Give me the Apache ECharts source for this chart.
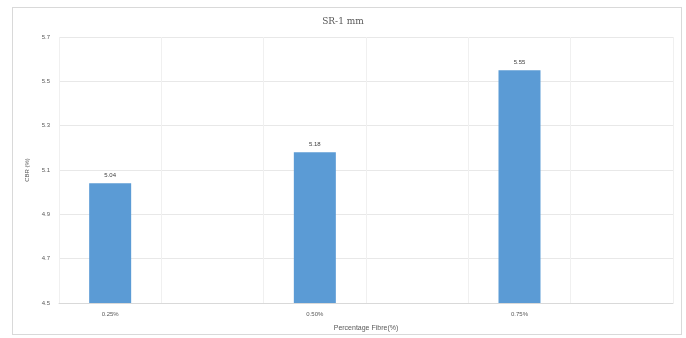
<!DOCTYPE html>
<html>
<head>
<meta charset="utf-8">
<script src="https://cdn.jsdelivr.net/npm/echarts@6/dist/echarts.min.js"></script>
<style>
  html, body { margin: 0; padding: 0; background: #fff; }
  #frame { position: absolute; left: 12px; top: 7px; width: 670px; height: 328px; border: 1px solid #d9d9d9; box-sizing: border-box; }
  #chart { position: absolute; left: 0; top: 0; width: 686px; height: 338px; }
</style>
</head>
<body>
<div id="frame"></div>
<div id="chart"></div>
<script>
// CBR results for each fibre dosage
const chartTitle = 'SR-1 mm';
const categories = ['0.25%', '0.50%', '0.75%'];
const cbrValues = [5.04, 5.18, 5.55];
const yTicks = [4.5, 4.7, 4.9, 5.1, 5.3, 5.5, 5.7];

// each dosage sits in every other slot of the axis, with an empty slot after it
const slotLabels = [];
const slotValues = [];
categories.forEach((c, i) => {
  slotLabels.push(c, '');
  slotValues.push(cbrValues[i], null);
});

const chart = echarts.init(document.getElementById('chart'), null, { renderer: 'canvas' });
chart.setOption({
  backgroundColor: 'transparent',
  animation: false,
  title: {
    text: chartTitle,
    left: 'center',
    top: 12,
    textStyle: { fontFamily: 'DejaVu Serif', fontSize: 9, fontWeight: 'normal', color: '#595959' }
  },
  grid: { left: 59, right: 13, top: 37, bottom: 35 },
  xAxis: {
    type: 'category',
    data: slotLabels,
    name: 'Percentage Fibre(%)',
    nameLocation: 'middle',
    nameGap: 22,
    nameTextStyle: { fontFamily: 'Liberation Sans', fontSize: 7, color: '#595959' },
    axisLine: { lineStyle: { color: '#d9d9d9' } },
    axisTick: { show: false },
    axisLabel: { fontFamily: 'Liberation Sans', fontSize: 6, color: '#595959', margin: 8, interval: 0 },
    splitLine: { show: true, lineStyle: { color: '#f0f0f0', width: 1 } }
  },
  yAxis: {
    type: 'value',
    min: yTicks[0],
    max: yTicks[yTicks.length - 1],
    interval: 0.2,
    name: 'CBR (%)',
    nameLocation: 'middle',
    nameGap: 20,
    nameRotate: 90,
    nameTextStyle: { fontFamily: 'Liberation Sans', fontSize: 6, color: '#595959' },
    axisLine: { show: false },
    axisTick: { show: false },
    axisLabel: {
      fontFamily: 'Liberation Sans', fontSize: 6, color: '#595959', margin: 9,
      formatter: v => v.toFixed(1)
    },
    splitLine: { lineStyle: { color: '#e8e8e8', width: 1 } }
  },
  series: [{
    type: 'bar',
    data: slotValues,
    barWidth: 42,
    itemStyle: { color: '#5b9bd5' },
    label: {
      show: true,
      position: 'top',
      distance: 5,
      fontFamily: 'Liberation Sans',
      fontSize: 6,
      color: '#404040',
      formatter: p => (p.value == null ? '' : p.value.toFixed(2))
    }
  }]
});
</script>
</body>
</html>
